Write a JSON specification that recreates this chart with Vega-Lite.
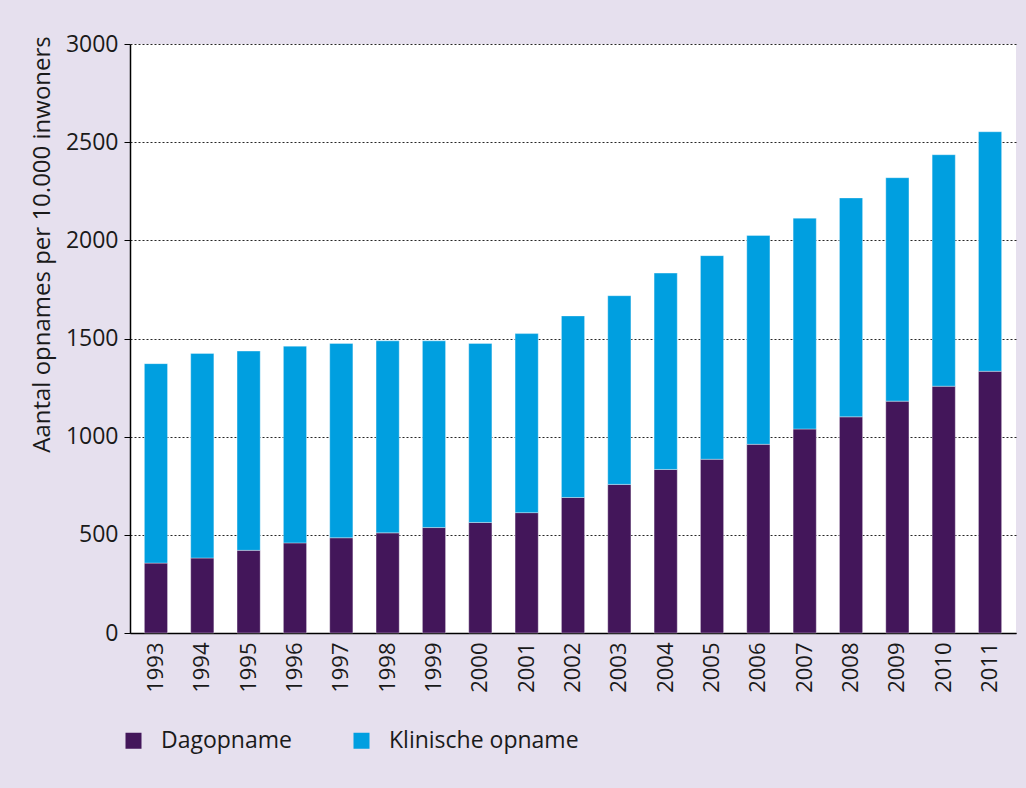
{
  "$schema": "https://vega.github.io/schema/vega-lite/v6.json",
  "width": 886,
  "height": 589,
  "autosize": {"type": "none"},
  "padding": {"left": 130, "top": 44, "right": 10, "bottom": 155},
  "background": "#e6e0ee",
  "config": {
    "font": "Open Sans",
    "view": {"fill": "white", "stroke": null},
    "axis": {"labelFont": "Open Sans", "titleFont": "Open Sans", "labelColor": "#1a1a1a", "titleColor": "#1a1a1a"}
  },
  "data": {
    "values": [
      {"jaar": "1993", "type": "Dagopname", "waarde": 356},
      {"jaar": "1993", "type": "Klinische opname", "waarde": 1016},
      {"jaar": "1994", "type": "Dagopname", "waarde": 382},
      {"jaar": "1994", "type": "Klinische opname", "waarde": 1042},
      {"jaar": "1995", "type": "Dagopname", "waarde": 421},
      {"jaar": "1995", "type": "Klinische opname", "waarde": 1015},
      {"jaar": "1996", "type": "Dagopname", "waarde": 459},
      {"jaar": "1996", "type": "Klinische opname", "waarde": 1002},
      {"jaar": "1997", "type": "Dagopname", "waarde": 485},
      {"jaar": "1997", "type": "Klinische opname", "waarde": 990},
      {"jaar": "1998", "type": "Dagopname", "waarde": 510},
      {"jaar": "1998", "type": "Klinische opname", "waarde": 978},
      {"jaar": "1999", "type": "Dagopname", "waarde": 537},
      {"jaar": "1999", "type": "Klinische opname", "waarde": 951},
      {"jaar": "2000", "type": "Dagopname", "waarde": 563},
      {"jaar": "2000", "type": "Klinische opname", "waarde": 912},
      {"jaar": "2001", "type": "Dagopname", "waarde": 613},
      {"jaar": "2001", "type": "Klinische opname", "waarde": 912},
      {"jaar": "2002", "type": "Dagopname", "waarde": 690},
      {"jaar": "2002", "type": "Klinische opname", "waarde": 925},
      {"jaar": "2003", "type": "Dagopname", "waarde": 757},
      {"jaar": "2003", "type": "Klinische opname", "waarde": 961},
      {"jaar": "2004", "type": "Dagopname", "waarde": 833},
      {"jaar": "2004", "type": "Klinische opname", "waarde": 1000},
      {"jaar": "2005", "type": "Dagopname", "waarde": 885},
      {"jaar": "2005", "type": "Klinische opname", "waarde": 1037},
      {"jaar": "2006", "type": "Dagopname", "waarde": 961},
      {"jaar": "2006", "type": "Klinische opname", "waarde": 1064},
      {"jaar": "2007", "type": "Dagopname", "waarde": 1039},
      {"jaar": "2007", "type": "Klinische opname", "waarde": 1074},
      {"jaar": "2008", "type": "Dagopname", "waarde": 1101},
      {"jaar": "2008", "type": "Klinische opname", "waarde": 1115},
      {"jaar": "2009", "type": "Dagopname", "waarde": 1181},
      {"jaar": "2009", "type": "Klinische opname", "waarde": 1138},
      {"jaar": "2010", "type": "Dagopname", "waarde": 1257},
      {"jaar": "2010", "type": "Klinische opname", "waarde": 1179},
      {"jaar": "2011", "type": "Dagopname", "waarde": 1333},
      {"jaar": "2011", "type": "Klinische opname", "waarde": 1220}
    ]
  },
  "mark": {"type": "bar", "stroke": "#ffffff", "strokeOpacity": 0.35, "strokeWidth": 1},
  "encoding": {
    "x": {
      "field": "jaar",
      "type": "ordinal",
      "scale": {"paddingInner": 0.5, "paddingOuter": 0.31},
      "axis": {
        "title": null,
        "labelAngle": -90,
        "labelAlign": "right",
        "labelBaseline": "middle",
        "labelFontSize": 22,
        "labelPadding": 9,
        "ticks": false,
        "domainColor": "#000000",
        "domainWidth": 1.5
      }
    },
    "y": {
      "field": "waarde",
      "type": "quantitative",
      "stack": "zero",
      "scale": {"domain": [0, 3000], "nice": false},
      "axis": {
        "title": "Aantal opnames per 10.000 inwoners",
        "titleFontSize": 24,
        "titleFontWeight": "normal",
        "titleX": -88,
        "titleY": 200,
        "titleAlign": "center",
        "titleBaseline": "middle",
        "values": [0, 500, 1000, 1500, 2000, 2500, 3000],
        "format": "d",
        "labelFontSize": 23,
        "labelPadding": 6,
        "tickSize": 6,
        "tickColor": "#000000",
        "domainColor": "#000000",
        "domainWidth": 1.5,
        "grid": true,
        "gridColor": "#000000",
        "gridDash": [2, 2],
        "gridOpacity": 0.85
      }
    },
    "color": {
      "field": "type",
      "type": "nominal",
      "scale": {"domain": ["Dagopname", "Klinische opname"], "range": ["#43165a", "#009fe0"]},
      "legend": {
        "title": null,
        "orient": "none",
        "legendX": -8,
        "legendY": 685,
        "direction": "horizontal",
        "symbolType": "square",
        "symbolSize": 256,
        "symbolStrokeWidth": 0,
        "labelFontSize": 23,
        "labelFont": "Open Sans",
        "labelColor": "#1a1a1a",
        "labelOffset": 16,
        "labelLimit": 400,
        "columnPadding": 58
      }
    },
    "order": {"field": "type", "sort": "ascending"}
  }
}
